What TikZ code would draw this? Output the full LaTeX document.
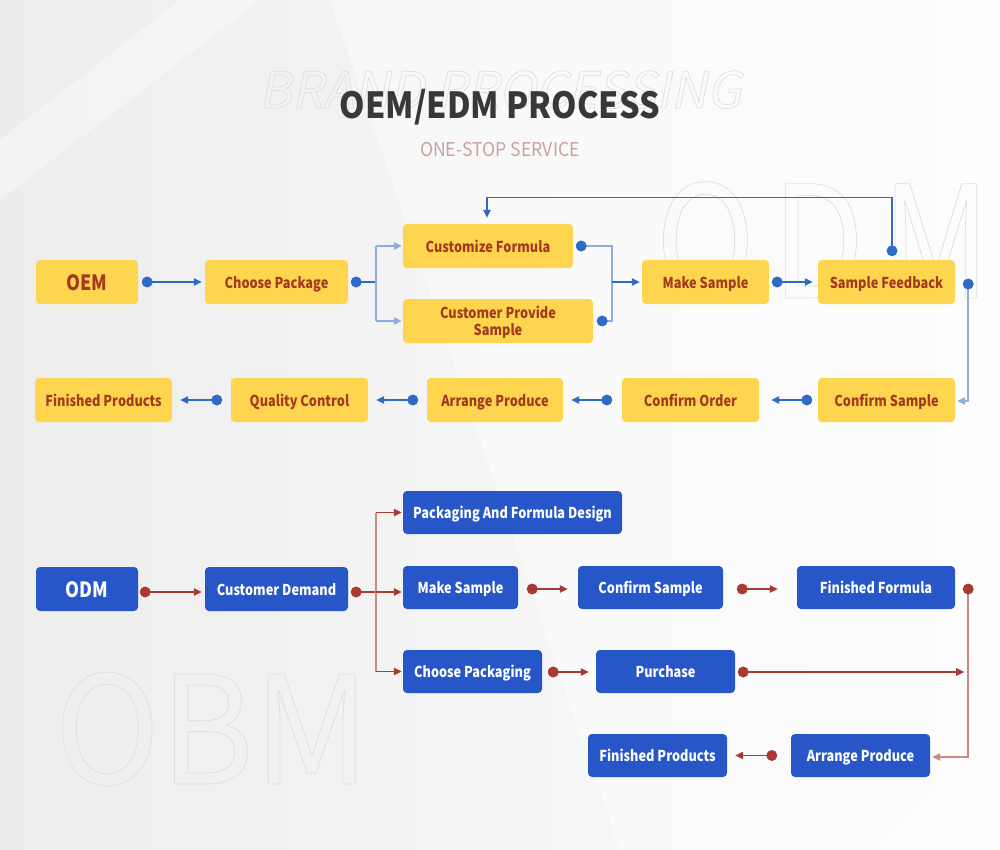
\documentclass[tikz,border=0pt]{standalone}
\usepackage{fontspec}
\setmainfont{Noto Sans CJK SC}
\newfontfamily\boxff{Noto Sans CJK SC}[FakeStretch=0.85]
\newfontfamily\titleff{Noto Sans CJK SC}[FakeStretch=0.9]
\newfontfamily\subff{Noto Sans CJK SC}[FakeStretch=0.93]
\newfontfamily\wmfont{Noto Sans CJK SC}[FakeSlant=0.2]
\newfontfamily\wmbig{Noto Sans CJK SC}[FakeStretch=0.86]
\newfontfamily\wmwide{Noto Sans CJK SC}[FakeStretch=0.95]
\usetikzlibrary{arrows.meta,calc}
\definecolor{ybg}{HTML}{FDD54F}
\definecolor{ytext}{HTML}{A33A1F}
\definecolor{bline}{HTML}{2F6BC5}
\definecolor{blight}{HTML}{8DAEDC}
\definecolor{bbg}{HTML}{2756C9}
\definecolor{rline}{HTML}{A83A32}
\definecolor{rlight}{HTML}{C98A86}
\definecolor{titlec}{HTML}{383838}
\definecolor{subc}{HTML}{C9A3A3}
\definecolor{wmc}{HTML}{DCDCDC}
\newcommand\outl[1]{\special{pdf:literal direct 0.87 0.87 0.87 RG 0.7 w 1 Tr}#1\special{pdf:literal direct 0 Tr}}
\begin{document}
\begin{tikzpicture}[x=1pt,y=-1pt,
  boxfont/.style={font=\boxff\bfseries\fontsize{15}{16}\selectfont},
  ybox/.style={fill=ybg, rounded corners=4pt, text=ytext, inner sep=0pt, align=center, boxfont, text height=12pt, text depth=0pt},
  ybox2/.style={fill=ybg, rounded corners=4pt, text=ytext, inner sep=0pt, align=center, boxfont},
  bbox/.style={fill=bbg, rounded corners=4pt, text=white, inner sep=0pt, align=center, boxfont, text height=12pt, text depth=0pt},
  sz/.style 2 args={minimum width=#1pt, minimum height=#2pt},
  big/.style={font=\boxff\bfseries\fontsize{21}{22}\selectfont, text height=16pt, text depth=0pt},
  bl/.style={draw=bline, line width=1.3pt},
  bll/.style={draw=blight, line width=1.5pt},
  rl/.style={draw=rline, line width=1.3pt},
  rll/.style={draw=rlight, line width=1.5pt},
  tipb/.style={-{Triangle[length=8pt,width=7.5pt]}},
  bdot/.style={fill=bline},
  rdot/.style={fill=rline}]
\useasboundingbox (0,0) rectangle (1000,850);
% background
\shade[left color=black!7, right color=black!1] (0,0) rectangle (1000,850);
\fill[white, opacity=0.45] (330,0) -- (1000,0) -- (1000,850) -- (620,850) -- cycle;
\fill[white, opacity=0.35] (180,0) -- (260,0) -- (0,200) -- (0,140) -- cycle;
\fill[white, opacity=0.5] (880,850) -- (1000,720) -- (1000,850) -- cycle;
% watermarks
\node[anchor=base, text=wmc, font=\wmfont\fontsize{50}{50}\selectfont, inner sep=0pt] (wm1) at (500,108) {\outl{BRAND PROCESSING}};
\node[anchor=base, text=wmc, font=\wmbig\fontsize{156}{156}\selectfont, inner sep=0pt] (wm2) at (823,298) {\outl{O\hspace{17pt}D\hspace{17pt}M}};
\node[anchor=base, text=wmc, font=\wmwide\fontsize{150}{150}\selectfont, inner sep=0pt] (wm3) at (212,784) {\outl{OBM}};
% title
\node[anchor=base, text=titlec, font=\titleff\bfseries\fontsize{36}{36}\selectfont, inner sep=0pt] (title) at (500,119) {OEM/EDM PROCESS};
\node[anchor=base, text=subc, font=\subff\fontsize{19}{19}\selectfont, inner sep=0pt] (sub) at (500,157) {ONE-STOP SERVICE};
% OEM nodes
\node[ybox, sz={102}{44}, big] (oem) at (87,282) {OEM};
\node[ybox, sz={143}{44}] (choosepkg) at (276.5,282) {Choose Package};
\node[ybox, sz={170}{44}] (custform) at (488,246) {Customize Formula};
\node[ybox2, sz={190}{44}] (custprov) at (498,321) {\raisebox{-2pt}[\height][\depth]{\begin{tabular}{@{}c@{}}Customer Provide\\Sample\end{tabular}}};
\node[ybox, sz={127}{44}] (makesample) at (705.5,282) {Make Sample};
\node[ybox, sz={137}{44}] (feedback) at (886.5,282) {Sample Feedback};
\node[ybox, sz={137}{44}] (confsample) at (886.5,400) {Confirm Sample};
\node[ybox, sz={137}{44}] (conforder) at (690.5,400) {Confirm Order};
\node[ybox, sz={136}{44}] (arrange) at (495,400) {Arrange Produce};
\node[ybox, sz={137}{44}] (quality) at (299.5,400) {Quality Control};
\node[ybox, sz={137}{44}] (finished) at (103.5,400) {Finished Products};
% OEM connectors
\draw[bl, tipb] ($(oem.east)+(9,0)$) -- ($(choosepkg.west)+(-3,0)$);
\fill[bdot] ($(oem.east)+(9,0)$) circle[radius=5.5pt];
\draw[bl] ($(choosepkg.east)+(8,0)$) -- ++(20,0) coordinate (jA);
\draw[bll] (jA |- custform.west) -- (jA |- custprov.west);
\draw[bll, tipb] (jA |- custform.west) -- ($(custform.west)+(-1,0)$);
\draw[bll, tipb] (jA |- custprov.west) -- ($(custprov.west)+(-1,0)$);
\fill[bdot] ($(choosepkg.east)+(8,0)$) circle[radius=5.5pt];
\coordinate (jB) at ($(makesample.west)+(-30,0)$);
\draw[bll] ($(custform.east)+(8,0)$) -| (jB) |- ($(custprov.east)+(9,0)$);
\draw[bl, tipb] (jB) -- ($(makesample.west)+(-2,0)$);
\fill[bdot] ($(custform.east)+(8,0)$) circle[radius=5.5pt];
\fill[bdot] ($(custprov.east)+(9,0)$) circle[radius=5.5pt];
\draw[bl, tipb] ($(makesample.east)+(8,0)$) -- ($(feedback.west)+(-5,0)$);
\fill[bdot] ($(makesample.east)+(8,0)$) circle[radius=5.5pt];
\draw[bl, tipb] ($(feedback.north)+(5.5,-9)$) |- ($(custform.north)+(-1,-26)$) -- ($(custform.north)+(-1,-6)$);
\fill[bdot] ($(feedback.north)+(5.5,-9)$) circle[radius=5.5pt];
\draw[bll, tipb] ($(feedback.east)+(13,2)$) |- ($(confsample.east)+(2,1)$);
\fill[bdot] ($(feedback.east)+(13,2)$) circle[radius=5.5pt];
\draw[bl, tipb] ($(confsample.west)+(-11,0)$) -- ($(conforder.east)+(12,0)$);
\fill[bdot] ($(confsample.west)+(-11,0)$) circle[radius=5.5pt];
\draw[bl, tipb] ($(conforder.west)+(-15,0)$) -- ($(arrange.east)+(8,0)$);
\fill[bdot] ($(conforder.west)+(-15,0)$) circle[radius=5.5pt];
\draw[bl, tipb] ($(arrange.west)+(-14,0)$) -- ($(quality.east)+(8,0)$);
\fill[bdot] ($(arrange.west)+(-14,0)$) circle[radius=5.5pt];
\draw[bl, tipb] ($(quality.west)+(-14,0)$) -- ($(finished.east)+(8,0)$);
\fill[bdot] ($(quality.west)+(-14,0)$) circle[radius=5.5pt];
% ODM nodes
\node[bbox, sz={102}{44}, big] (odm) at (87,589) {ODM};
\node[bbox, sz={143}{44}] (demand) at (276.5,589) {Customer Demand};
\node[bbox, sz={219}{43}] (pfd) at (512.5,512.5) {Packaging And Formula Design};
\node[bbox, sz={115}{43}] (bmake) at (460.5,587.5) {Make Sample};
\node[bbox, sz={145}{43}] (bconfirm) at (650.5,587.5) {Confirm Sample};
\node[bbox, sz={158}{43}] (bformula) at (876,587.5) {Finished Formula};
\node[bbox, sz={139}{43}] (bchoose) at (472.5,671.5) {Choose Packaging};
\node[bbox, sz={139}{43}] (purchase) at (665.5,671.5) {Purchase};
\node[bbox, sz={139}{43}] (barrange) at (860.5,755.5) {Arrange Produce};
\node[bbox, sz={139}{43}] (bfinished) at (657.5,755.5) {Finished Products};
% ODM connectors
\draw[rl, tipb] ($(odm.east)+(7,3)$) -- ($(demand.west)+(-3,3)$);
\fill[rdot] ($(odm.east)+(7,3)$) circle[radius=5.5pt];
\draw[rl] ($(demand.east)+(8,3)$) -- ++(20,0) coordinate (jC);
\draw[rll] (jC |- pfd.west) -- (jC |- bchoose.west);
\draw[rl, tipb] (jC |- pfd.west) -- ($(pfd.west)+(-1,0)$);
\draw[rl, tipb] (jC) -- ($(bmake.west)+(-1,4.5)$);
\draw[rl, tipb] (jC |- bchoose.west) -- ($(bchoose.west)+(-1,0)$);
\fill[rdot] ($(demand.east)+(8,3)$) circle[radius=5.5pt];
\draw[rl, tipb] ($(bmake.east)+(14,1.5)$) -- ($(bconfirm.west)+(-10,1.5)$);
\fill[rdot] ($(bmake.east)+(14,1.5)$) circle[radius=5.5pt];
\draw[rl, tipb] ($(bconfirm.east)+(19,1.5)$) -- ($(bformula.west)+(-19,1.5)$);
\fill[rdot] ($(bconfirm.east)+(19,1.5)$) circle[radius=5.5pt];
\draw[rll, tipb] ($(bformula.east)+(13,1.5)$) |- ($(barrange.east)+(2,1.5)$);
\fill[rdot] ($(bformula.east)+(13,1.5)$) circle[radius=5.5pt];
\draw[rl, tipb] ($(bchoose.east)+(11,0.5)$) -- ($(purchase.west)+(-7,0.5)$);
\fill[rdot] ($(bchoose.east)+(11,0.5)$) circle[radius=5.5pt];
\draw[rl, tipb] ($(purchase.east)+(8,0.5)$) -- ($(purchase.east)+(229,0.5)$);
\fill[rdot] ($(purchase.east)+(8,0.5)$) circle[radius=5.5pt];
\draw[rl, tipb] ($(barrange.west)+(-19,0)$) -- ($(bfinished.east)+(8,0)$);
\fill[rdot] ($(barrange.west)+(-19,0)$) circle[radius=5.5pt];
\end{tikzpicture}
\end{document}
